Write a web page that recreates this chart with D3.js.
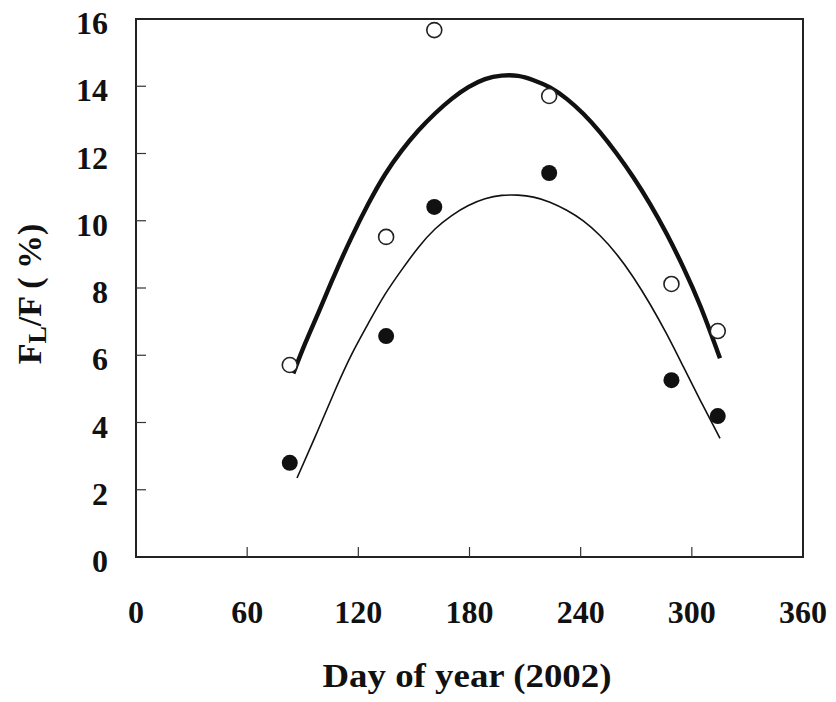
<!DOCTYPE html>
<html>
<head>
<meta charset="utf-8">
<script src="https://cdn.jsdelivr.net/npm/d3@7"></script>
<style>
  html, body { margin: 0; padding: 0; background: #fff; }
  svg { display: block; }
  text { font-family: "Liberation Serif", "Times New Roman", serif; font-weight: bold; fill: #111; }
</style>
</head>
<body>
<svg id="chart" width="836" height="702"></svg>
<script>
// ---- data ----
const days = [83, 135, 161, 223, 289, 314];
const openValues = [5.71, 9.52, 15.67, 13.71, 8.12, 6.72];     // open circles
const filledValues = [2.80, 6.57, 10.41, 11.42, 5.26, 4.19];   // filled circles

// fitted curves
const thickCurveDays = [84.9, 91.2, 98.4, 107.4, 116.4, 125.4, 134.4, 143.4, 152.4, 161.4, 170.4, 179.4, 188.4, 197.4, 206.3, 214.4, 223.4, 232.5, 241.4, 250.4, 259.4, 268.4, 277.4, 286.4, 295.4, 304.4, 315.2];
const thickCurveValues = [5.46, 6.36, 7.25, 8.44, 9.53, 10.52, 11.41, 12.10, 12.70, 13.20, 13.64, 13.99, 14.24, 14.33, 14.33, 14.19, 13.99, 13.64, 13.20, 12.65, 12.01, 11.31, 10.52, 9.63, 8.63, 7.54, 5.91];
const thinCurveDays = [86.9, 98.4, 107.4, 116.4, 125.4, 134.4, 143.4, 152.4, 161.4, 170.4, 179.4, 188.4, 197.4, 206.3, 214.4, 223.4, 232.5, 241.4, 250.4, 259.4, 268.4, 277.4, 286.4, 295.4, 304.4, 315.2];
const thinCurveValues = [2.35, 3.78, 4.97, 6.06, 6.95, 7.84, 8.54, 9.23, 9.78, 10.17, 10.47, 10.67, 10.77, 10.77, 10.72, 10.57, 10.32, 10.02, 9.58, 9.03, 8.34, 7.54, 6.65, 5.66, 4.67, 3.53];

const xTicks = [0, 60, 120, 180, 240, 300, 360];
const yTicks = [0, 2, 4, 6, 8, 10, 12, 14, 16];

// ---- layout ----
const M = { left: 136, right: 803, top: 19, bottom: 557 };
const svg = d3.select("#chart");
const x = d3.scaleLinear().domain([0, 360]).range([M.left, M.right]);
const y = d3.scaleLinear().domain([0, 16]).range([M.bottom, M.top]);

// frame
svg.append("rect")
  .attr("x", M.left).attr("y", M.top)
  .attr("width", M.right - M.left).attr("height", M.bottom - M.top)
  .attr("fill", "none").attr("stroke", "#222").attr("stroke-width", 2);

// inward ticks
svg.append("g").selectAll("line")
  .data(xTicks.filter(d => d > 0 && d < 360)).join("line")
  .attr("x1", d => x(d)).attr("x2", d => x(d))
  .attr("y1", M.bottom).attr("y2", M.bottom - 10)
  .attr("stroke", "#333").attr("stroke-width", 1.2);
svg.append("g").selectAll("line")
  .data(yTicks.filter(d => d > 0 && d < 16)).join("line")
  .attr("y1", d => y(d)).attr("y2", d => y(d))
  .attr("x1", M.left).attr("x2", M.left + 10)
  .attr("stroke", "#333").attr("stroke-width", 1.2);

// tick labels
svg.append("g").selectAll("text")
  .data(xTicks).join("text")
  .attr("x", d => x(d)).attr("y", 623)
  .attr("text-anchor", "middle")
  .attr("font-size", 32)
  .text(d => d);
svg.append("g").selectAll("text")
  .data(yTicks).join("text")
  .attr("x", 108).attr("y", d => y(d) + 15)
  .attr("text-anchor", "end")
  .attr("font-size", 32)
  .text(d => d);

// axis titles
svg.append("text")
  .attr("x", 467).attr("y", 687)
  .attr("text-anchor", "middle")
  .attr("font-size", 34)
  .attr("textLength", 289).attr("lengthAdjust", "spacingAndGlyphs")
  .text("Day of year (2002)");

const yl = svg.append("text")
  .attr("transform", "translate(41,294) rotate(-90)")
  .attr("text-anchor", "middle")
  .attr("font-size", 34);
yl.append("tspan").text("F");
yl.append("tspan").attr("font-size", 26).attr("dy", 5).text("L");
yl.append("tspan").attr("dy", -5).text("/F ( %)");

// curves
const line = d3.line().x(d => x(d[0])).y(d => y(d[1])).curve(d3.curveBasis);
svg.append("path")
  .datum(d3.zip(thinCurveDays, thinCurveValues))
  .attr("d", line).attr("fill", "none").attr("stroke", "#111").attr("stroke-width", 1.6);
svg.append("path")
  .datum(d3.zip(thickCurveDays, thickCurveValues))
  .attr("d", line).attr("fill", "none").attr("stroke", "#111").attr("stroke-width", 4.4);

// points
svg.append("g").selectAll("circle")
  .data(d3.zip(days, filledValues)).join("circle")
  .attr("cx", d => x(d[0])).attr("cy", d => y(d[1])).attr("r", 8)
  .attr("fill", "#111");
svg.append("g").selectAll("circle")
  .data(d3.zip(days, openValues)).join("circle")
  .attr("cx", d => x(d[0])).attr("cy", d => y(d[1])).attr("r", 7.5)
  .attr("fill", "#fff").attr("stroke", "#222").attr("stroke-width", 1.6);
</script>
</body>
</html>
